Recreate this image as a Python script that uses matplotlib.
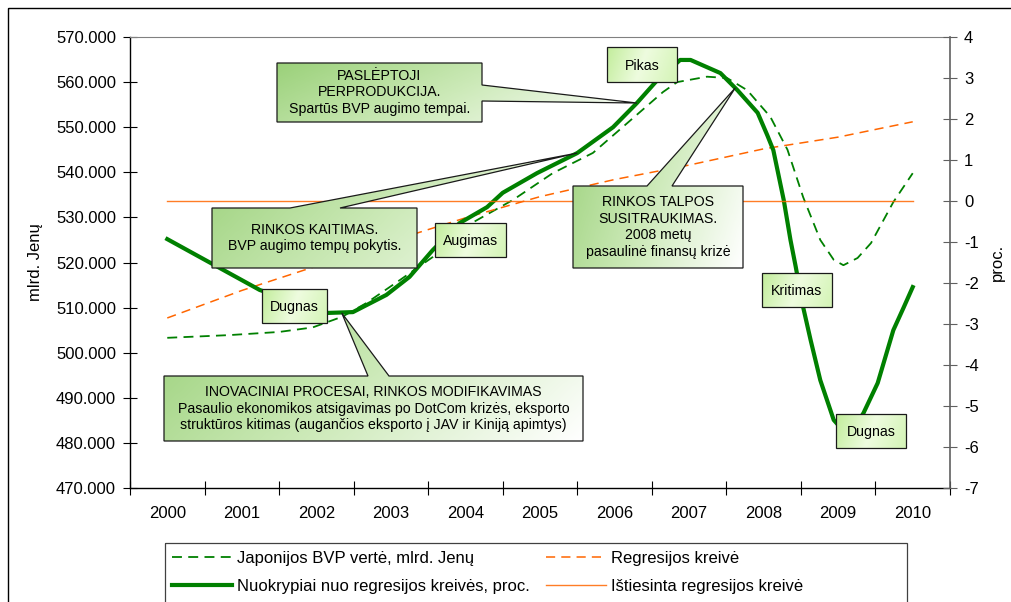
import numpy as np
import matplotlib
matplotlib.use("Agg")
import matplotlib.pyplot as plt
from matplotlib.patches import Polygon, Rectangle
from matplotlib.colors import LinearSegmentedColormap
from matplotlib.ticker import FuncFormatter

plt.rcParams['font.family'] = ['Liberation Sans', 'DejaVu Sans']
plt.rcParams['axes.unicode_minus'] = False

# ---- data ----
years = list(range(2000, 2011))

# Japonijos BVP verte, mlrd. Jenu (left axis)
gdp_x = [2000.0, 2000.83, 2001.5, 2001.95, 2002.35, 2002.67, 2003.12, 2003.56,
         2003.92, 2004.23, 2004.64, 2005.17, 2005.71, 2006.17, 2006.65, 2006.84,
         2007.24, 2007.51, 2007.78, 2008.09, 2008.32, 2008.53, 2008.76, 2008.94,
         2009.07, 2009.26, 2009.44, 2009.74, 2010.0]
gdp_y = [503.3, 503.9, 504.6, 505.6, 508.0, 511.0, 516.1, 521.2,
         527.2, 530.1, 533.9, 539.8, 544.3, 550.9, 557.8, 560.0,
         561.2, 560.9, 558.2, 552.3, 545.0, 534.5, 525.0, 520.6,
         519.4, 521.0, 524.3, 533.4, 539.8]

# Regresijos kreive (left axis)
regr_y = [507.7, 513.8, 519.2, 524.7, 529.9, 534.6, 538.4, 541.6, 545.2, 547.8, 551.2]

# Nuokrypiai nuo regresijos kreives, proc. (right axis)
dev_x = [2000.0, 2001.24, 2002.15, 2002.49, 2002.94, 2003.25, 2003.56, 2003.92,
         2004.29, 2004.5, 2004.96, 2005.5, 2005.98, 2006.3, 2006.55, 2006.88,
         2007.02, 2007.42, 2007.65, 2007.92, 2008.05, 2008.13, 2008.27, 2008.36,
         2008.43, 2008.53, 2008.63, 2008.76, 2008.94, 2009.14, 2009.34, 2009.53,
         2009.74, 2009.88, 2010.0]
dev_y = [-0.93, -2.17, -2.73, -2.71, -2.29, -1.85, -1.2, -0.54,
         -0.15, 0.2, 0.68, 1.17, 1.8, 2.39, 2.9, 3.44,
         3.44, 3.12, 2.7, 2.15, 1.6, 1.24, 0.02, -0.95,
         -1.6, -2.59, -3.39, -4.37, -5.34, -5.75, -5.17, -4.44,
         -3.15, -2.59, -2.1]

# Istiesinta regresijos kreive (right axis)
flat_y = [0] * len(years)

W, H = 1011, 602
fig = plt.figure(figsize=(W / 100, H / 100), dpi=100)
fig.patch.set_facecolor('white')

ax = fig.add_axes([130 / W, 1 - 488 / H, 820 / W, 451 / H])
ax2 = ax.twinx()

GREEN = '#008000'
ORANGE = '#ff6600'

l1, = ax.plot(gdp_x, gdp_y, color=GREEN, lw=1.3, ls=(0, (5.5, 3.5)),
              label='Japonijos BVP vertė, mlrd. Jenų')
l3, = ax.plot(years, regr_y, color=ORANGE, lw=1.1, ls=(0, (6, 4)),
              label='Regresijos kreivė')
l2, = ax2.plot(dev_x, dev_y, color=GREEN, lw=3.0, solid_joinstyle='round',
               label='Nuokrypiai nuo regresijos kreivės, proc.')
l4, = ax2.plot(years, flat_y, color=ORANGE, lw=1.0, alpha=0.85,
               label='Ištiesinta regresijos kreivė')

ax.set_xlim(1999.5, 2010.5)
ax.set_ylim(470, 570)
ax2.set_ylim(-7, 4)
ax.set_yticks(np.arange(470, 571, 10))
ax.yaxis.set_major_formatter(FuncFormatter(lambda v, p: '%d.000' % v))
ax2.set_yticks(np.arange(-7, 5, 1))

ax.set_xticks(np.arange(1999.5, 2011, 1.0))
ax.set_xticklabels([])
ax.set_xticks(years, minor=True)
ax.set_xticklabels([str(y) for y in years], minor=True)
ax.tick_params(axis='x', which='major', direction='inout', length=10, width=0.8)
ax.tick_params(axis='x', which='minor', length=0, labelsize=12, pad=13)
ax.tick_params(axis='y', direction='inout', length=10, width=0.8, labelsize=12, pad=5)
ax2.tick_params(axis='y', direction='inout', length=10, width=0.8, labelsize=12,
                pad=5, color='#606060')

ax.spines['right'].set_visible(False)
ax.spines['top'].set_color('#808080')
ax.spines['top'].set_linewidth(0.8)
for s in ['left', 'bottom']:
    ax.spines[s].set_linewidth(1.0)
for s in ['left', 'top', 'bottom']:
    ax2.spines[s].set_visible(False)
ax2.spines['right'].set_color('#606060')
ax2.spines['right'].set_linewidth(1.2)

ax.set_ylabel('mlrd. Jenų', fontsize=12)
ax.yaxis.set_label_coords(-0.106, 0.5)
ax2.set_ylabel('proc.', fontsize=12)
ax2.yaxis.set_label_coords(1.049, 0.5)

# ---- overlay in pixel coordinates for the callouts ----
ov = fig.add_axes([0, 0, 1, 1])
ov.set_zorder(3)
ov.axis('off')


def to_px(axis, x, y):
    dx, dy = axis.transData.transform((x, y))
    return dx, H - dy


def gradient_shape(verts, colors, weight=0.75, edge='#1a1a1a'):
    poly = Polygon(verts, closed=True, facecolor='none', edgecolor=edge, lw=0.9, zorder=4)
    ov.add_patch(poly)
    xs = [v[0] for v in verts]
    ys = [v[1] for v in verts]
    u = np.linspace(0, 1, 200)[None, :]
    v = np.linspace(0, 1, 60)[:, None]
    g = weight * u + (1 - weight) * v
    cmap = LinearSegmentedColormap.from_list('g', colors)
    im = ov.imshow(g, cmap=cmap, extent=(min(xs), max(xs), max(ys), min(ys)),
                   aspect='auto', interpolation='bilinear', zorder=3, origin='upper')
    im.set_clip_path(poly)


def big_callout(box, text, tip, base, side='top'):
    x0, y0, x1, y1 = box
    if side == 'top':
        verts = [(x0, y0), (base[0], y0), tip, (base[1], y0), (x1, y0), (x1, y1), (x0, y1)]
    else:
        verts = [(x0, y0), (x1, y0), (x1, base[0]), tip, (x1, base[1]), (x1, y1), (x0, y1)]
    gradient_shape(verts, ['#9bd17a', '#cdeab9', '#ffffff'])
    ov.text((x0 + x1) / 2, (y0 + y1) / 2, text, ha='center', va='center',
            fontsize=10.2, linespacing=1.25, zorder=5)


def small_box(box, text):
    x0, y0, x1, y1 = box
    verts = [(x0, y0), (x1, y0), (x1, y1), (x0, y1)]
    gradient_shape(verts, ['#c2ed9b', '#eefcdf', '#d4f4b6'], weight=0.85)
    ov.text((x0 + x1) / 2, (y0 + y1) / 2 + 1, text, ha='center', va='center',
            fontsize=10.2, zorder=5)


big_callout((277, 63, 482, 122), 'PASLĖPTOJI\nPERPRODUKCIJA.\nSpartūs BVP augimo tempai.',
            to_px(ax2, 2006.3, 2.39), (85, 101), side='right')
big_callout((212, 208, 417, 268), 'RINKOS KAITIMAS.\nBVP augimo tempų pokytis.',
            to_px(ax2, 2005.5, 1.17), (290, 340))
big_callout((573, 186, 743, 268),
            'RINKOS TALPOS\nSUSITRAUKIMAS.\n2008 metų\npasaulinė finansų krizė',
            to_px(ax2, 2007.62, 2.76), (647, 672))
big_callout((164, 376, 583, 441),
            'INOVACINIAI PROCESAI, RINKOS MODIFIKAVIMAS\n'
            'Pasaulio ekonomikos atsigavimas po DotCom krizės, eksporto\n'
            'struktūros kitimas (augančios eksporto į JAV ir Kiniją apimtys)',
            to_px(ax2, 2002.34, -2.73), (368, 389))

small_box((607, 47, 677, 82), 'Pikas')
small_box((435, 223, 506, 257), 'Augimas')
small_box((262, 289, 327, 323), 'Dugnas')
small_box((762, 273, 832, 307), 'Kritimas')
small_box((836, 414, 906, 448), 'Dugnas')

# legend frame and outer chart frame
ov.add_patch(Rectangle((165, 543), 742, 100, facecolor='none', edgecolor='#404040', lw=0.9))
ov.add_patch(Rectangle((8, 8), 1100, 700, facecolor='none', edgecolor='black', lw=1.0))
ov.set_xlim(0, W)
ov.set_ylim(H, 0)

leg = fig.legend([l1, l2, l3, l4], [h.get_label() for h in [l1, l2, l3, l4]],
                 ncol=2, loc='upper left', bbox_to_anchor=(172 / W, 1 - 551 / H),
                 frameon=False, fontsize=12, handlelength=3.6, handletextpad=0.3,
                 columnspacing=0.95, labelspacing=0.8, borderpad=0, borderaxespad=0)
leg.set_zorder(6)

fig.savefig('out.png', dpi=100, facecolor='white')
